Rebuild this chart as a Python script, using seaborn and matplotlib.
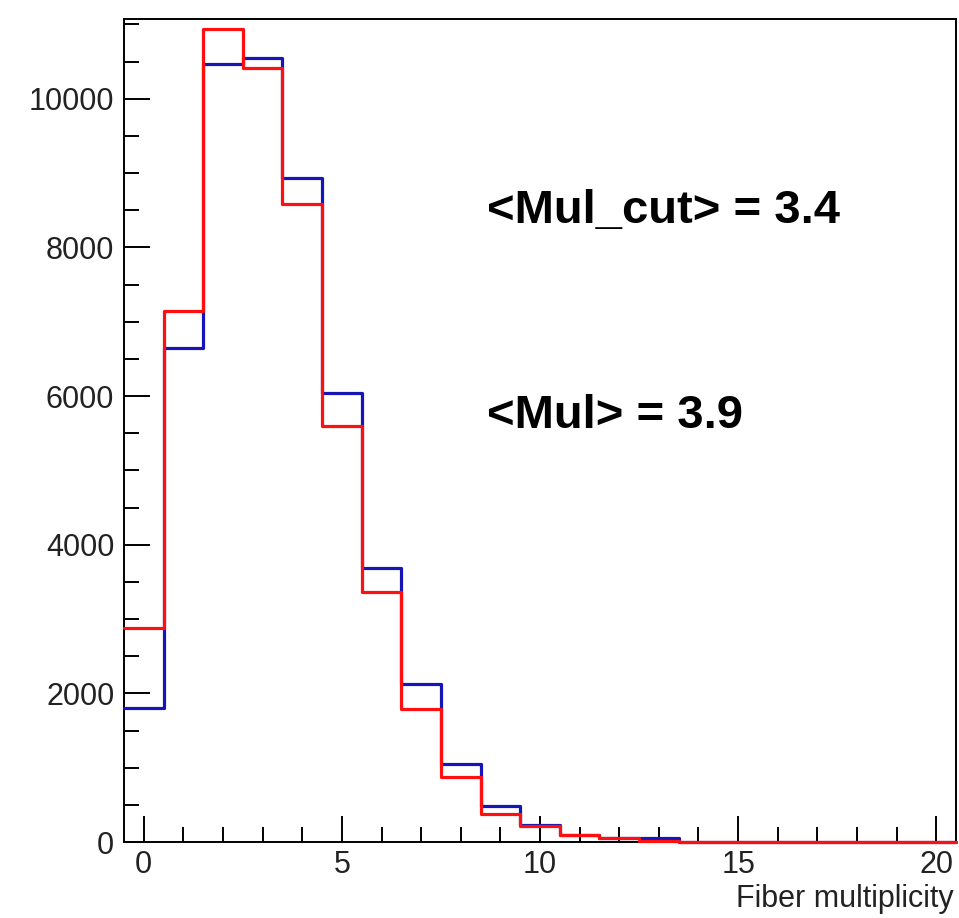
import numpy as np
import pandas as pd
import matplotlib
matplotlib.use("Agg")
import matplotlib.pyplot as plt
import seaborn as sns

# Bin centres (fiber multiplicity) and counts
multiplicity = list(range(0, 21))
counts_all = [1800, 6650, 10470, 10550, 8940, 6040, 3690, 2130, 1050, 490,
              235, 95, 50, 55, 5, 2, 1, 1, 0, 0, 0]
counts_cut = [2880, 7140, 10940, 10420, 8590, 5600, 3370, 1785, 870, 375,
              220, 94, 50, 8, 4, 2, 1, 1, 0, 0, 0]
annot_cut = "<Mul_cut> = 3.4"
annot_all = "<Mul> = 3.9"
xlabel = "Fiber multiplicity"

sns.set_style("ticks")
plt.rcParams["font.family"] = ["Liberation Sans", "DejaVu Sans"]

df = pd.DataFrame({
    "mult": multiplicity * 2,
    "count": counts_all + counts_cut,
    "sample": ["all"] * len(multiplicity) + ["cut"] * len(multiplicity),
})

fig = plt.figure(figsize=(9.59, 9.18), dpi=100)
ax = fig.add_axes([124 / 959, 76 / 918, (956 - 124) / 959, (842 - 18.7) / 918])

edges = [float(e) for e in np.arange(-0.5, 21.0, 1.0)]
sns.histplot(data=df[df["sample"] == "all"], x="mult", weights="count", bins=edges,
             element="step", fill=False, color="#1616b8", linewidth=2.3, ax=ax)
sns.histplot(data=df[df["sample"] == "cut"], x="mult", weights="count", bins=edges,
             element="step", fill=False, color="#ff1010", linewidth=2.3, ax=ax)

for i, ln in enumerate(ax.lines):
    ln.set_zorder(3 + i)
    ln.set_clip_on(False)

ax.set_xlim(-0.5, 20.5)
ax.set_ylim(0, 1.05 * max(counts_all))
ax.set_ylabel("")

ax.set_xticks([0, 5, 10, 15, 20])
ax.set_xticks(np.arange(0, 21, 1), minor=True)
ax.set_yticks(np.arange(0, 11000, 2000))
ax.set_yticks(np.arange(0, 11100, 500), minor=True)

ax.tick_params(axis="both", which="major", direction="in", length=18.5, width=1.4,
               labelsize=22, color="black", labelcolor="#222222")
ax.tick_params(axis="both", which="minor", direction="in", length=10.5, width=1.4,
               color="black")
ax.tick_params(axis="y", which="major", pad=7)
ax.tick_params(axis="x", which="major", pad=6)

for sp in ax.spines.values():
    sp.set_visible(True)
    sp.set_color("black")
    sp.set_linewidth(1.4)

ax.set_xlabel(xlabel, fontsize=22, color="#222222")
ax.xaxis.set_label_coords(0.997, -(906.5 - 842) / 823.3)
ax.xaxis.label.set_ha("right")
ax.xaxis.label.set_va("baseline")

ax.text((487 - 124) / 832, (842 - 223) / 823.3, annot_cut, transform=ax.transAxes,
        fontsize=34, fontweight="bold", ha="left", va="baseline", color="black")
ax.text((487 - 124) / 832, (842 - 428) / 823.3, annot_all, transform=ax.transAxes,
        fontsize=34, fontweight="bold", ha="left", va="baseline", color="black")

fig.savefig("out.png", dpi=100)
